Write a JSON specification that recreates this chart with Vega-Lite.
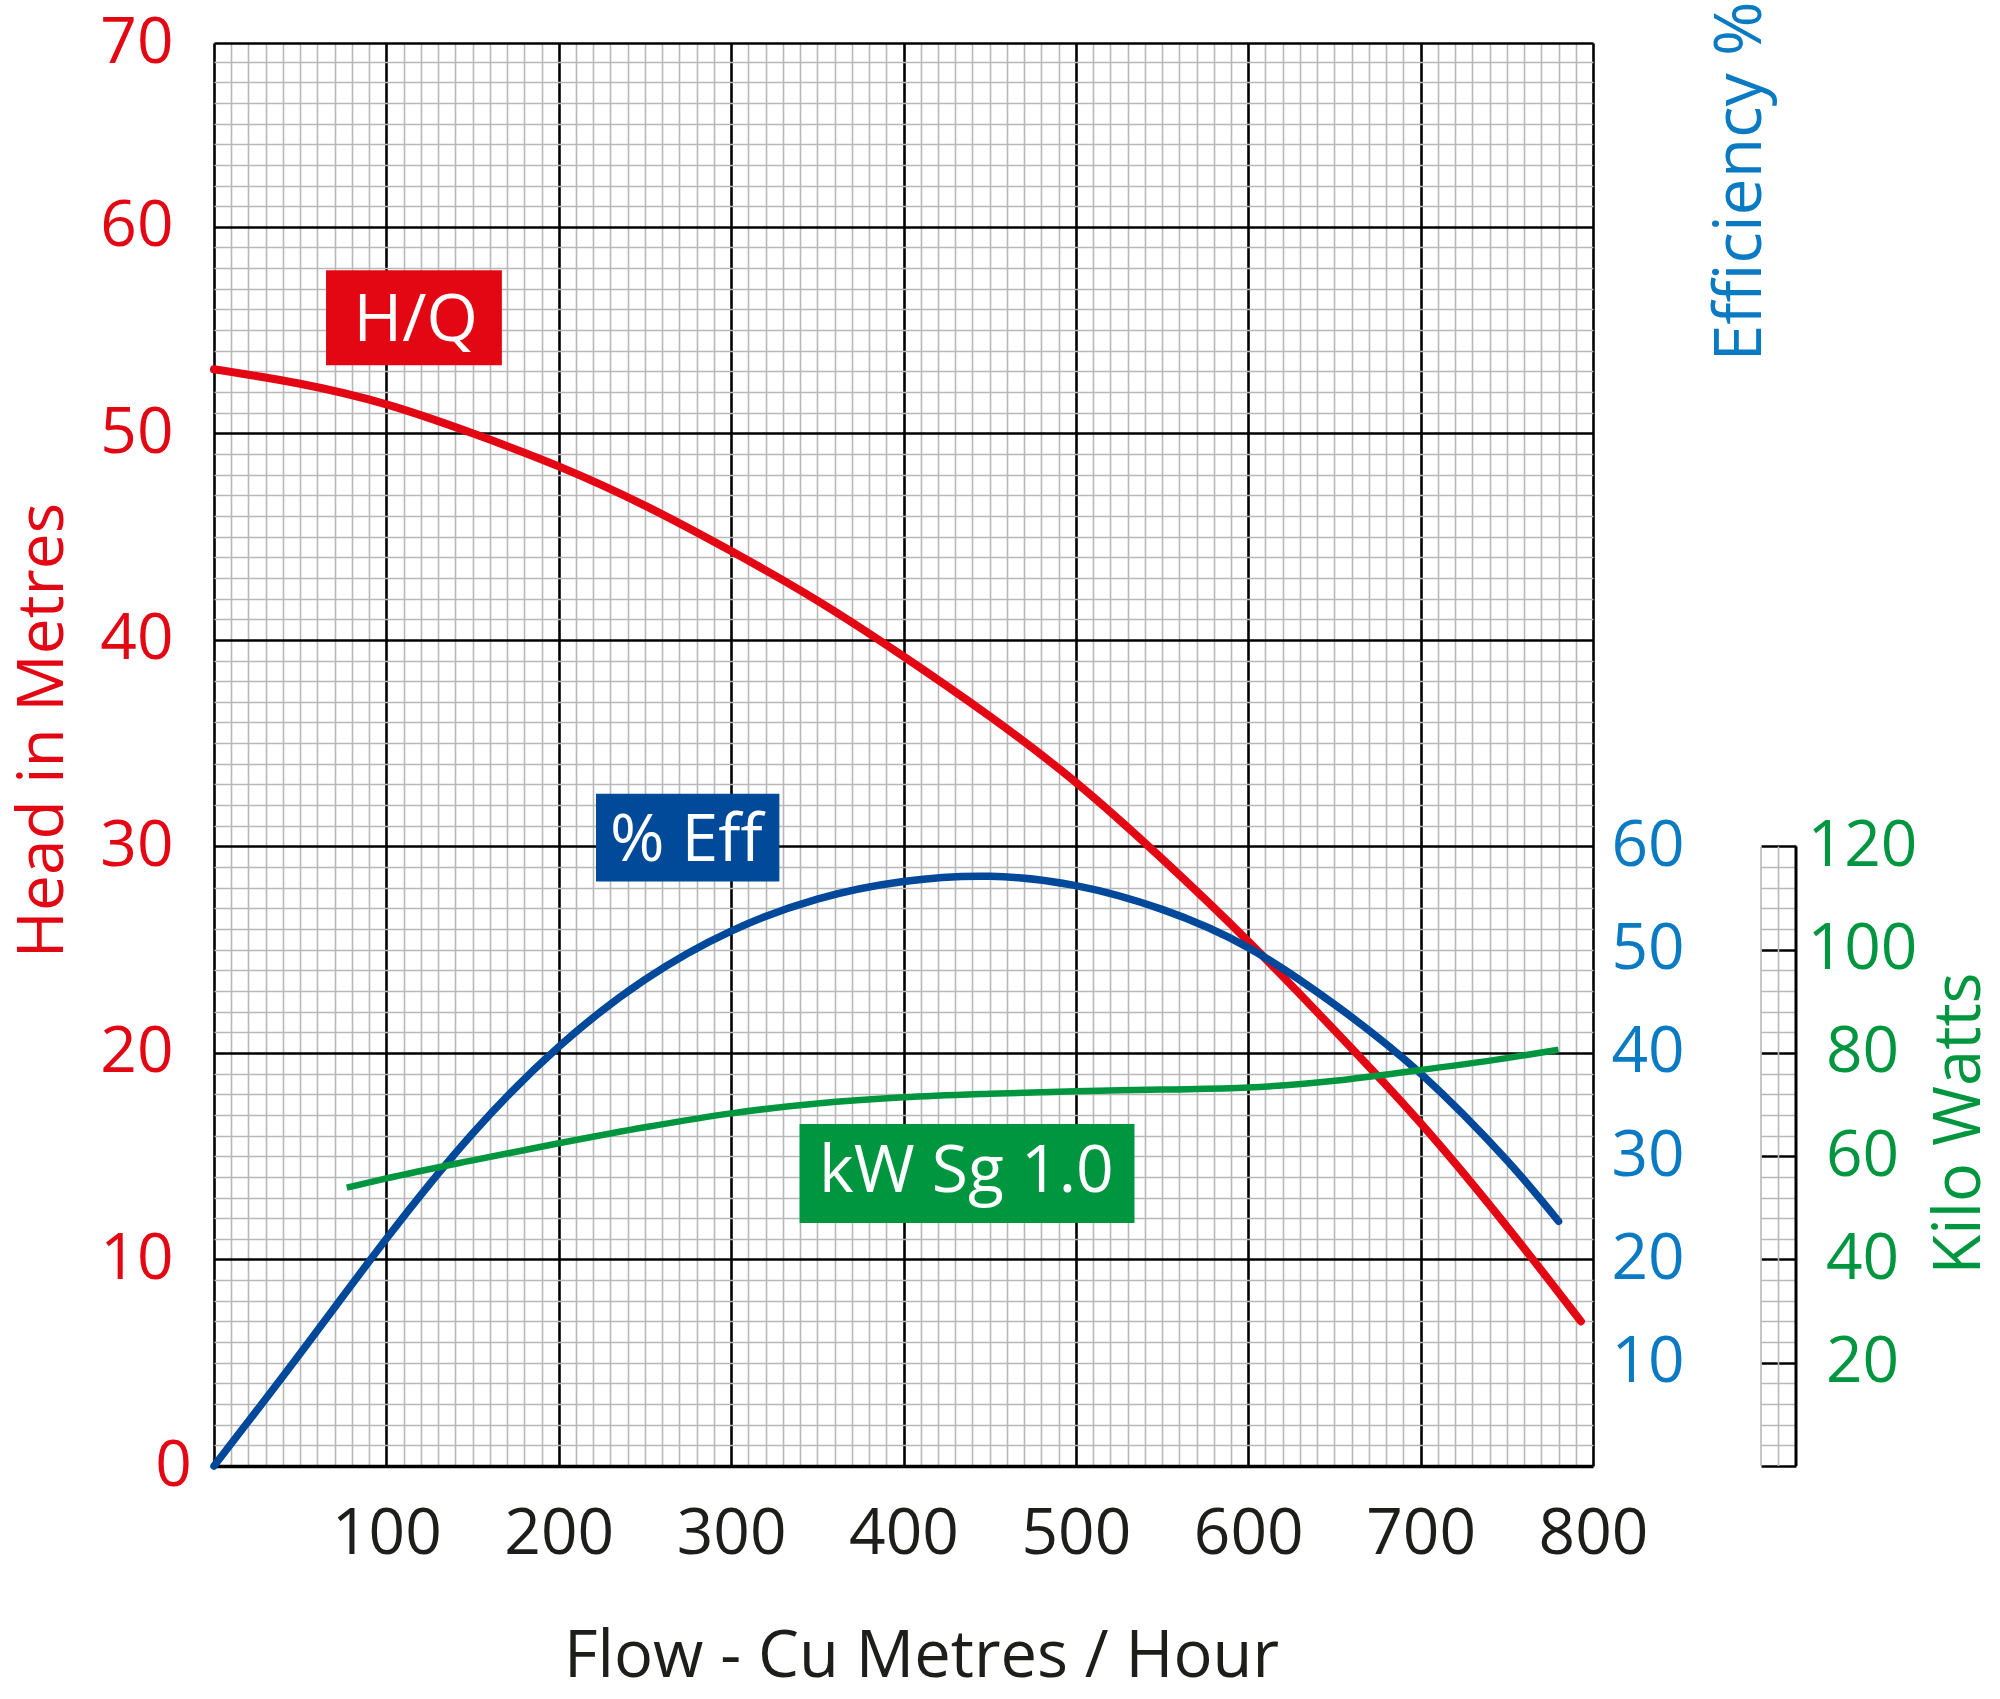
{
  "$schema": "https://vega.github.io/schema/vega-lite/v6.json",
  "background": "#ffffff",
  "padding": {"left": 11, "top": 0, "right": 0, "bottom": 6},
  "config": {
    "font": "Open Sans",
    "view": {"stroke": null}
  },
  "datasets": {
    "hq": [
      {"flow": 0, "head": 53.1}, {"flow": 50, "head": 52.4}, {"flow": 100, "head": 51.4},
      {"flow": 150, "head": 50.0}, {"flow": 200, "head": 48.4}, {"flow": 250, "head": 46.5},
      {"flow": 300, "head": 44.3}, {"flow": 350, "head": 41.9}, {"flow": 400, "head": 39.2},
      {"flow": 450, "head": 36.3}, {"flow": 500, "head": 33.1}, {"flow": 550, "head": 29.4},
      {"flow": 600, "head": 25.4}, {"flow": 650, "head": 21.1}, {"flow": 700, "head": 16.6},
      {"flow": 750, "head": 11.6}, {"flow": 793, "head": 7.0}
    ],
    "eff": [
      {"flow": 0, "eff": 0}, {"flow": 50, "eff": 10.9}, {"flow": 100, "eff": 22.0},
      {"flow": 150, "eff": 32.2}, {"flow": 200, "eff": 40.6}, {"flow": 250, "eff": 47.1},
      {"flow": 300, "eff": 51.8}, {"flow": 350, "eff": 54.9}, {"flow": 400, "eff": 56.6},
      {"flow": 450, "eff": 57.1}, {"flow": 500, "eff": 56.2}, {"flow": 550, "eff": 53.9},
      {"flow": 600, "eff": 50.2}, {"flow": 650, "eff": 44.7}, {"flow": 700, "eff": 38.0},
      {"flow": 750, "eff": 29.6}, {"flow": 780, "eff": 23.7}
    ],
    "kw": [
      {"flow": 77, "kw": 53.9}, {"flow": 100, "kw": 55.7}, {"flow": 150, "kw": 59.2},
      {"flow": 200, "kw": 62.5}, {"flow": 250, "kw": 65.6}, {"flow": 300, "kw": 68.3},
      {"flow": 350, "kw": 70.2}, {"flow": 400, "kw": 71.4}, {"flow": 450, "kw": 72.1},
      {"flow": 500, "kw": 72.6}, {"flow": 550, "kw": 72.9}, {"flow": 600, "kw": 73.3},
      {"flow": 650, "kw": 74.6}, {"flow": 700, "kw": 76.7}, {"flow": 750, "kw": 79.0},
      {"flow": 780, "kw": 80.6}
    ],
    "boxes": [
      {"label": "H/Q", "x1": 65, "x2": 167, "y1": 53.3, "y2": 57.9, "xc": 117, "yc": 55.45},
      {"label": "% Eff", "x1": 221.6, "x2": 328, "y1": 28.3, "y2": 32.55, "xc": 274, "yc": 30.25},
      {"label": "kW Sg 1.0", "x1": 339.7, "x2": 534, "y1": 11.77, "y2": 16.56, "xc": 436.5, "yc": 14.25}
    ],
    "strip": [{"col": 0}, {"col": 1}, {"col": 2}]
  },
  "bounds": "flush",
  "spacing": 168,
  "hconcat": [
    {
      "width": 1379,
      "height": 1423,
      "layer": [
        {
          "data": {"name": "hq"},
          "mark": {"type": "line", "color": "#e30613", "strokeWidth": 8, "interpolate": "natural", "strokeCap": "round"},
          "encoding": {
            "x": {
              "field": "flow", "type": "quantitative",
              "scale": {"domain": [0, 800], "nice": false, "zero": false},
              "axis": {
                "orient": "bottom",
                "tickCount": 80,
                "grid": true,
                "gridColor": {"condition": {"test": "datum.value % 100 === 0", "value": "#000000"}, "value": "#b8b8b8"},
                "gridWidth": {"condition": {"test": "datum.value % 100 === 0", "value": 2.6}, "value": 1.6},
                "ticks": false,
                "domain": false,
                "labelExpr": "datum.value % 100 === 0 && datum.value > 0 ? datum.label : ''",
                "labelOverlap": false,
                "labelFlush": false,
                "labelBound": false,
                "labelPadding": 36,
                "labelFontSize": 64,
                "labelColor": "#1d1d1b",
                "title": "Flow - Cu Metres / Hour",
                "titleFontSize": 65,
                "titleFontWeight": "normal",
                "titleColor": "#1d1d1b",
                "titleX": 707,
                "titleY": 210,
                "titleAlign": "center",
                "titleBaseline": "alphabetic"
              }
            },
            "y": {
              "field": "head", "type": "quantitative",
              "scale": {"domain": [0, 68.9], "nice": false},
              "axis": {
                "orient": "left",
                "values": [0, 1, 2, 3, 4, 5, 6, 7, 8, 9, 10, 11, 12, 13, 14, 15, 16, 17, 18, 19, 20, 21, 22, 23, 24, 25, 26, 27, 28, 29, 30, 31, 32, 33, 34, 35, 36, 37, 38, 39, 40, 41, 42, 43, 44, 45, 46, 47, 48, 49, 50, 51, 52, 53, 54, 55, 56, 57, 58, 59, 60, 61, 62, 63, 64, 65, 66, 67, 68, 68.9],
                "grid": true,
                "gridColor": {"condition": {"test": "datum.value % 10 === 0 || datum.value > 68.5", "value": "#000000"}, "value": "#b8b8b8"},
                "gridWidth": {"condition": [{"test": "datum.value === 0", "value": 3.5}, {"test": "datum.value % 10 === 0 || datum.value > 68.5", "value": 2.6}], "value": 1.6},
                "ticks": false,
                "domain": false,
                "labelExpr": "datum.value > 68.5 ? '70' : (datum.value % 10 === 0 ? datum.label : '')",
                "labelAlign": {"condition": {"test": "datum.value === 0", "value": "center"}, "value": "right"},
                "labelOverlap": false,
                "labelFlush": false,
                "labelBound": false,
                "labelPadding": 41,
                "labelFontSize": 64,
                "labelColor": "#e30613",
                "title": "Head in Metres",
                "titleFontSize": 64,
                "titleFontWeight": "normal",
                "titleColor": "#e30613",
                "titleAngle": 270,
                "titleX": -152,
                "titleY": 687,
                "titleAlign": "center",
                "titleBaseline": "alphabetic"
              }
            }
          }
        },
        {
          "data": {"name": "eff"},
          "mark": {"type": "line", "color": "#00489a", "strokeWidth": 7.5, "interpolate": "natural", "strokeCap": "round"},
          "encoding": {
            "x": {"field": "flow", "type": "quantitative"},
            "y": {
              "field": "eff", "type": "quantitative",
              "scale": {"domain": [0, 137.8], "nice": false},
              "axis": {
                "orient": "right",
                "values": [10, 20, 30, 40, 50, 60],
                "grid": false,
                "ticks": false,
                "domain": false,
                "labelFlush": false,
                "labelOverlap": false,
                "labelPadding": 18,
                "labelFontSize": 64,
                "labelColor": "#0a7bc2",
                "title": "Efficiency %",
                "titleFontSize": 66,
                "titleFontWeight": "normal",
                "titleColor": "#0a7bc2",
                "titleAngle": 270,
                "titleX": 167,
                "titleY": -42,
                "titleAlign": "right",
                "titleBaseline": "alphabetic"
              }
            }
          }
        },
        {
          "data": {"name": "kw"},
          "mark": {"type": "line", "color": "#009640", "strokeWidth": 6.5, "interpolate": "monotone", "strokeCap": "butt"},
          "encoding": {
            "x": {"field": "flow", "type": "quantitative"},
            "y": {"field": "kw", "type": "quantitative", "scale": {"domain": [0, 275.6], "nice": false}, "axis": null}
          }
        },
        {
          "data": {"name": "boxes"},
          "mark": {"type": "rect"},
          "encoding": {
            "x": {"field": "x1", "type": "quantitative"},
            "x2": {"field": "x2"},
            "y": {"field": "y1", "type": "quantitative", "scale": {"domain": [0, 68.9], "nice": false}, "axis": null},
            "y2": {"field": "y2"},
            "color": {
              "field": "label", "type": "nominal", "legend": null,
              "scale": {"domain": ["H/Q", "% Eff", "kW Sg 1.0"], "range": ["#e30613", "#004a99", "#009640"]}
            }
          }
        },
        {
          "data": {"name": "boxes"},
          "mark": {"type": "text", "color": "#ffffff", "fontSize": 66, "align": "center", "baseline": "middle"},
          "encoding": {
            "x": {"field": "xc", "type": "quantitative"},
            "y": {"field": "yc", "type": "quantitative", "scale": {"domain": [0, 68.9], "nice": false}, "axis": null},
            "text": {"field": "label"}
          }
        }
      ],
      "resolve": {"scale": {"y": "independent"}}
    },
    {
      "width": 35,
      "height": 1423,
      "data": {"name": "strip"},
      "mark": {"type": "rule"},
      "encoding": {
        "x": {"field": "col", "type": "quantitative", "scale": {"domain": [0, 2], "nice": false, "zero": false}, "axis": null},
        "y": {
          "datum": 0, "type": "quantitative",
          "scale": {"domain": [0, 275.6], "nice": false},
          "axis": {
            "orient": "right",
            "values": [0, 4, 8, 12, 16, 20, 24, 28, 32, 36, 40, 44, 48, 52, 56, 60, 64, 68, 72, 76, 80, 84, 88, 92, 96, 100, 104, 108, 112, 116, 120],
            "grid": true,
            "gridColor": {"condition": {"test": "datum.value % 20 === 0", "value": "#000000"}, "value": "#b8b8b8"},
            "gridWidth": {"condition": {"test": "datum.value % 20 === 0", "value": 2.6}, "value": 1.6},
            "ticks": false,
            "domain": false,
            "labelExpr": "datum.value % 20 === 0 && datum.value > 0 ? datum.label : ''",
            "labelAlign": "center",
            "labelOverlap": false,
            "labelFlush": false,
            "labelBound": false,
            "labelPadding": 66,
            "labelFontSize": 64,
            "labelColor": "#009640",
            "title": "Kilo Watts",
            "titleFontSize": 65,
            "titleFontWeight": "normal",
            "titleColor": "#009640",
            "titleAngle": 270,
            "titleX": 183,
            "titleY": 1080,
            "titleAlign": "center",
            "titleBaseline": "alphabetic"
          }
        },
        "y2": {"datum": 120},
        "color": {"condition": {"test": "datum.col === 2", "value": "#000000"}, "value": "#b8b8b8"},
        "strokeWidth": {"condition": {"test": "datum.col === 2", "value": 3}, "value": 1.6}
      }
    }
  ]
}
